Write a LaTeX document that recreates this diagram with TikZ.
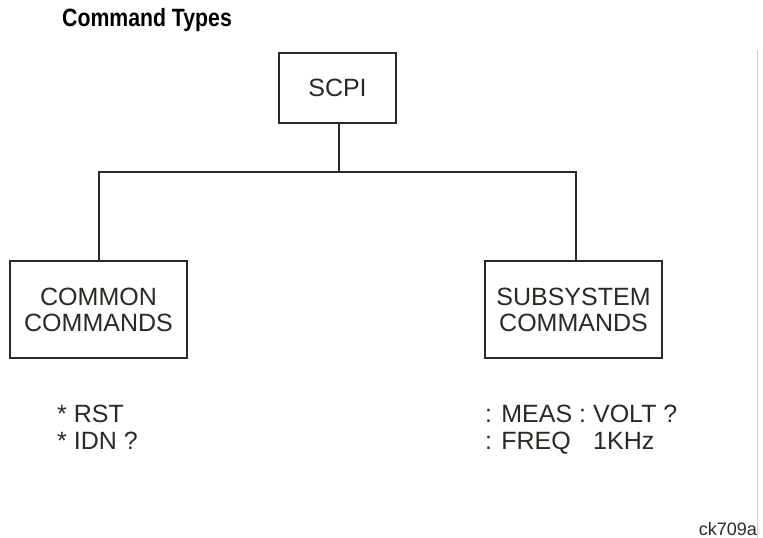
\documentclass[tikz,border=0pt]{standalone}
\usepackage{fontspec}
\setmainfont{Liberation Sans}
\newfontfamily\headfont[FakeStretch=0.85]{Liberation Sans Bold}
\usepackage{tikz}
\usetikzlibrary{positioning}
\usepackage{xcolor}
\definecolor{inkgray}{RGB}{42,42,36}
\definecolor{edgepink}{RGB}{242,190,198}
\tikzstyle{cmdbox} = [draw=inkgray, line width=1.8pt, inner sep=0pt, text=inkgray, font=\fontsize{25}{26}\selectfont, align=center]
\tikzstyle{wire} = [line width=1.8pt, color=inkgray]
\tikzstyle{example} = [inner sep=0pt, text=inkgray, font=\fontsize{25}{27}\selectfont, align=left, anchor=north west]

\begin{document}
\begin{tikzpicture}[x=1pt, y=-1pt]
\useasboundingbox (0,0) rectangle (763,538);

% Title
\node[anchor=base west, inner sep=0pt, text=black, font=\fontsize{25}{27}\headfont] (title) at (62,26.5) {Command Types};

% Boxes
\node[cmdbox, minimum width=117pt, minimum height=70pt] (scpi) at (337.5,88) {SCPI};
\node[cmdbox, minimum width=177pt, minimum height=97pt] (common) at (98.5,309.5) {COMMON\\COMMANDS};
\node[cmdbox, minimum width=177pt, minimum height=97pt] (subsys) at (573.5,309.5) {SUBSYSTEM\\COMMANDS};

% Tree
\coordinate (bus) at (339,172);
\draw[wire] (scpi.south -| bus) -- (bus);
\draw[wire] (common.north -| 99,0) |- (bus) -| (subsys.north -| 576,0);

% Examples
\node[example] (commonex) at (57,405) {* RST\\* IDN ?};
\node[example] (subsysex) at (485,405) {: MEAS : VOLT ?\\\makebox[108pt][l]{: FREQ}1KHz};

% Figure tag and edge
\node[anchor=base east, inner sep=0pt, text=inkgray, font=\fontsize{18}{20}\selectfont] (tag) at (757,535) {ck709a};
\draw[edgepink, line width=0.6pt] (757.5,50) -- (757.5,538);
\end{tikzpicture}
\end{document}
